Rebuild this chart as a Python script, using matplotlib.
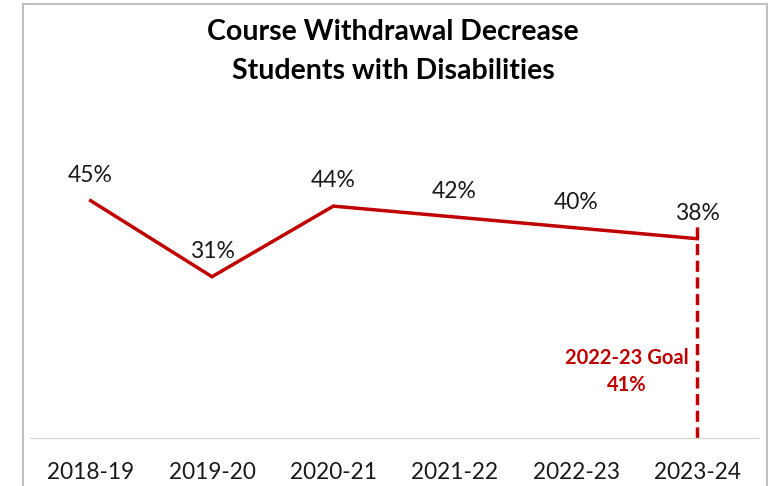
import matplotlib.pyplot as plt
from matplotlib.patches import Rectangle

# Datos de la serie
anios = ["2018-19", "2019-20", "2020-21", "2021-22", "2022-23", "2023-24"]
retiro = [45, 31, 44, 42, 40, 38]
meta_valor = 41
meta_texto = "2022-23 Goal"

ROJO = "#C00000"
plt.rcParams["font.family"] = ["Lato", "DejaVu Sans"]

W, H = 780, 486
fig = plt.figure(figsize=(W / 100, H / 100), dpi=100)
fig.patch.set_facecolor("white")

# Marco gris del gráfico
fig.patches.append(Rectangle((23 / W, -0.1), (767 - 23) / W, 1.1 - 4 / H,
                             transform=fig.transFigure, fill=False,
                             edgecolor="#BFBFBF", linewidth=1.5))

ax = fig.add_axes([30 / W, 1 - 438 / H, (758 - 30) / W, (438 - 110) / H])
x = list(range(len(anios)))
ax.plot(x, retiro, color=ROJO, linewidth=2.5, solid_joinstyle="miter")
ax.set_xlim(-0.5, len(anios) - 0.5)
ax.set_ylim(1.3, 61.7)

for xi, v in zip(x, retiro):
    ax.annotate(f"{v}%", (xi, v), xytext=(0, 18.2), textcoords="offset points",
                ha="center", va="center", fontsize=16.5, color="#1a1a1a")

# Línea de meta
ax.vlines(x[-1], 1.3, meta_valor, color=ROJO, linewidth=2.5,
          linestyles=(0, (3.2, 1.6)))
ax.text(x[-1] - 0.58, 13.6, f"{meta_texto}\n{meta_valor}%", ha="center",
        va="center", fontsize=14.5, fontweight="bold", color=ROJO,
        linespacing=1.45)

for s in ["left", "right", "top"]:
    ax.spines[s].set_visible(False)
ax.spines["bottom"].set_color("#D9D9D9")
ax.spines["bottom"].set_linewidth(1)
ax.set_yticks([])
ax.set_xticks(x)
ax.set_xticklabels(anios, fontsize=16.3, color="#1a1a1a")
ax.tick_params(axis="x", length=0, pad=17)

fig.text(393 / W, 1 - 32 / H, "Course Withdrawal Decrease", ha="center",
         va="center", fontsize=20.5, fontweight="bold")
fig.text(393 / W, 1 - 71 / H, "Students with Disabilities", ha="center",
         va="center", fontsize=20.5, fontweight="bold")

fig.savefig("out.png", dpi=100)
